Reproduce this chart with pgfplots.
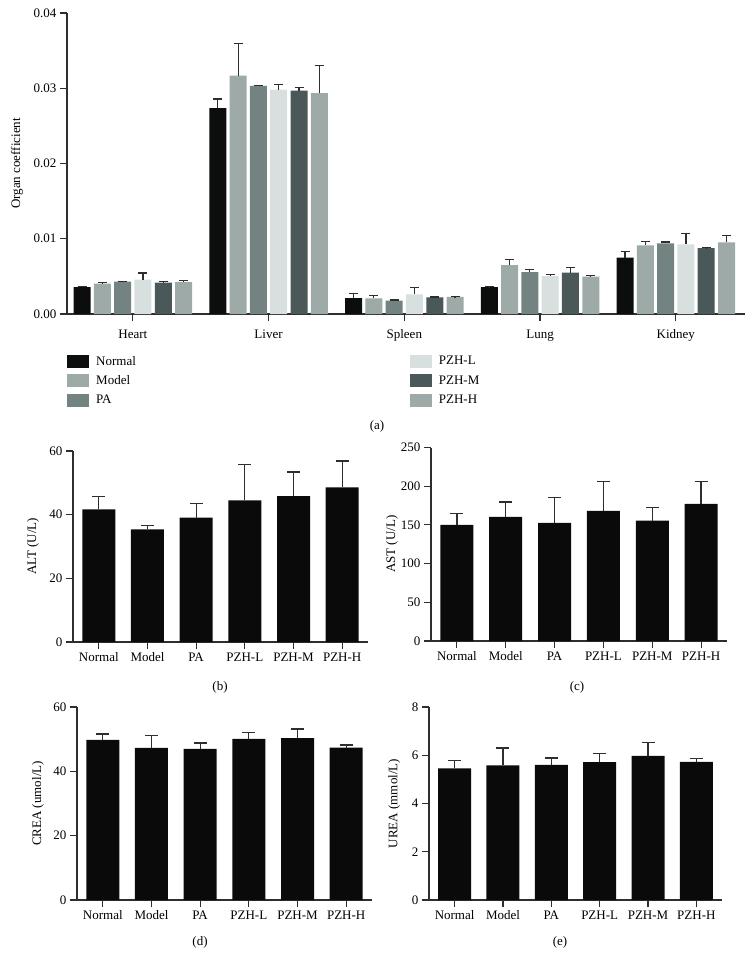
\documentclass[border=0pt]{standalone}
\usepackage{fontspec}
\setmainfont{Liberation Serif}
\usepackage{pgfplots}
\usepackage{pgfplotstable}
\pgfplotsset{compat=1.18}

\definecolor{cNormal}{HTML}{0B0E0D}
\definecolor{cModel}{HTML}{9DAAA8}
\definecolor{cPA}{HTML}{728381}
\definecolor{cPZHL}{HTML}{D8E0DF}
\definecolor{cPZHM}{HTML}{4B5859}
\definecolor{cPZHH}{HTML}{9DAAA8}
\definecolor{axgray}{HTML}{2E2E2E}
\definecolor{barblack}{HTML}{0A0A0A}

% organ coefficients (Heart, Liver, Spleen, Lung, Kidney)
\pgfplotstableread{
x normal normalE model modelE pa paE pzhl pzhlE pzhm pzhmE pzhh pzhhE
0 0.00358 0.00008 0.00403 0.00017 0.00430 0.00004 0.00456 0.00090 0.00416 0.00014 0.00425 0.00017
1 0.02735 0.00123 0.03168 0.00432 0.03030 0.00008 0.02982 0.00071 0.02969 0.00044 0.02934 0.00366
2 0.00212 0.00062 0.00208 0.00040 0.00177 0.00008 0.00261 0.00093 0.00221 0.00004 0.00226 0.00004
3 0.00358 0.00004 0.00650 0.00076 0.00558 0.00035 0.00504 0.00023 0.00549 0.00071 0.00496 0.00013
4 0.00748 0.00084 0.00912 0.00053 0.00938 0.00018 0.00925 0.00141 0.00876 0.00004 0.00951 0.00093
}\organ

\pgfplotstableread{
x val err
0 41.7 4.1
1 35.4 1.1
2 39.1 4.4
3 44.5 11.2
4 45.8 7.6
5 48.6 8.3
}\alt

\pgfplotstableread{
x val err
0 150.0 15.0
1 160.3 19.4
2 152.6 32.7
3 168.1 38.4
4 155.6 16.8
5 177.2 28.8
}\ast

\pgfplotstableread{
x val err
0 49.8 1.8
1 47.3 3.8
2 47.0 1.8
3 50.1 1.9
4 50.3 2.9
5 47.4 0.8
}\crea

\pgfplotstableread{
x val err
0 5.46 0.32
1 5.58 0.72
2 5.60 0.29
3 5.72 0.36
4 5.97 0.57
5 5.73 0.13
}\urea

\pgfplotsset{
  common/.style={
    scale only axis,
    axis x line*=bottom, axis y line*=left,
    axis line style={-, line width=1.1pt, draw=axgray},
    every tick/.style={line width=1.1pt, draw=axgray},
    tick align=outside,
    major tick length=7pt,
    minor tick num=0,
    /pgf/number format/assume math mode=true,
    tick label style={font=\fontsize{13}{15}\selectfont, text=black},
    label style={font=\fontsize{13}{15}\selectfont},
    scaled y ticks=false,
    ymin=0,
    clip=false,
  },
  bottomchart/.style={
    common,
    ybar, bar width=33pt,
    xmin=-0.53, xmax=5.53,
    xtick={0,1,2,3,4,5},
    xticklabels={Normal,Model,PA,PZH-L,PZH-M,PZH-H},
  },
  blackbar/.style={
    fill=barblack, draw=none,
    error bars/.cd, y dir=plus, y explicit,
    error bar style={draw=axgray, line width=1.3pt},
    error mark options={rotate=90, draw=axgray, line width=1.3pt, mark size=6.5pt},
  },
  orgbar/.style={
    fill=#1, draw=none,
    error bars/.cd, y dir=plus, y explicit,
    error bar style={draw=axgray, line width=1.2pt},
    error mark options={rotate=90, draw=axgray, line width=1.2pt, mark size=4.5pt},
  },
}

\begin{document}
\begin{tikzpicture}
\useasboundingbox (0pt,0pt) rectangle (754pt,-969pt);

% ---------------- (a) organ coefficients
\begin{axis}[
  common,
  at={(67pt,-314pt)}, anchor=south west,
  width=678pt, height=301pt,
  ybar=3.3pt, bar width=17pt,
  xmin=-0.485, xmax=4.51,
  ymax=0.04,
  xtick={0,1,2,3,4},
  xticklabels={Heart,Liver,Spleen,Lung,Kidney},
  xticklabel style={yshift=-5pt},
  ytick={0,0.01,0.02,0.03,0.04},
  yticklabel={\pgfmathprintnumber[fixed,fixed zerofill,precision=2]{\tick}},
  ylabel={Organ coefficient},
  ylabel style={at={(axis description cs:-0.0737,0.5)}, anchor=center},
  legend columns=3, transpose legend,
  legend cell align=left,
  legend image code/.code={\fill[#1] (0pt,-6.5pt) rectangle (22pt,6.5pt);},
  legend style={at={(axis description cs:0,0)}, anchor=north west,
    yshift=-40pt, draw=none, fill=none, inner sep=0pt,
    font=\fontsize{13}{15}\selectfont,
    /tikz/row sep=5pt,
    /tikz/every odd column/.append style={column sep=5pt},
    /tikz/every even column/.append style={column sep=272pt}},
]
\addplot[orgbar=cNormal] table[x=x, y=normal, y error=normalE] {\organ};
\addlegendentry{Normal}
\addplot[orgbar=cModel] table[x=x, y=model, y error=modelE] {\organ};
\addlegendentry{Model}
\addplot[orgbar=cPA] table[x=x, y=pa, y error=paE] {\organ};
\addlegendentry{PA}
\addplot[orgbar=cPZHL] table[x=x, y=pzhl, y error=pzhlE] {\organ};
\addlegendentry{PZH-L}
\addplot[orgbar=cPZHM] table[x=x, y=pzhm, y error=pzhmE] {\organ};
\addlegendentry{PZH-M}
\addplot[orgbar=cPZHH] table[x=x, y=pzhh, y error=pzhhE] {\organ};
\addlegendentry{PZH-H}
\end{axis}
\node[font=\fontsize{13}{15}\selectfont] at (377pt,-426pt) {(a)};

% ---------------- (b) ALT
\begin{axis}[
  bottomchart,
  at={(73pt,-642pt)}, anchor=south west,
  width=295pt, height=191pt,
  ymax=60, ytick={0,20,40,60},
  ylabel={ALT (U/L)},
  ylabel style={at={(axis description cs:-0.1356,0.5)}, anchor=center},
]
\addplot[blackbar] table[x=x, y=val, y error=err] {\alt};
\end{axis}
\node[font=\fontsize{13}{15}\selectfont] at (220pt,-687pt) {(b)};

% ---------------- (c) AST
\begin{axis}[
  bottomchart,
  at={(431pt,-641pt)}, anchor=south west,
  width=296pt, height=193.5pt,
  ymax=250, ytick={0,50,100,150,200,250},
  ylabel={AST (U/L)},
  ylabel style={at={(axis description cs:-0.132,0.5)}, anchor=center},
]
\addplot[blackbar] table[x=x, y=val, y error=err] {\ast};
\end{axis}
\node[font=\fontsize{13}{15}\selectfont] at (577pt,-687pt) {(c)};

% ---------------- (d) CREA
\begin{axis}[
  bottomchart,
  at={(77pt,-900pt)}, anchor=south west,
  width=295pt, height=193pt,
  ymax=60, ytick={0,20,40,60},
  ylabel={CREA (umol/L)},
  ylabel style={at={(axis description cs:-0.132,0.5)}, anchor=center},
]
\addplot[blackbar] table[x=x, y=val, y error=err] {\crea};
\end{axis}
\node[font=\fontsize{13}{15}\selectfont] at (200pt,-942pt) {(d)};

% ---------------- (e) UREA
\begin{axis}[
  bottomchart,
  at={(429pt,-900pt)}, anchor=south west,
  width=293pt, height=193pt,
  ymax=8, ytick={0,2,4,6,8},
  ylabel={UREA (mmol/L)},
  ylabel style={at={(axis description cs:-0.119,0.5)}, anchor=center},
]
\addplot[blackbar] table[x=x, y=val, y error=err] {\urea};
\end{axis}
\node[font=\fontsize{13}{15}\selectfont] at (560pt,-942pt) {(e)};
\end{tikzpicture}
\end{document}
